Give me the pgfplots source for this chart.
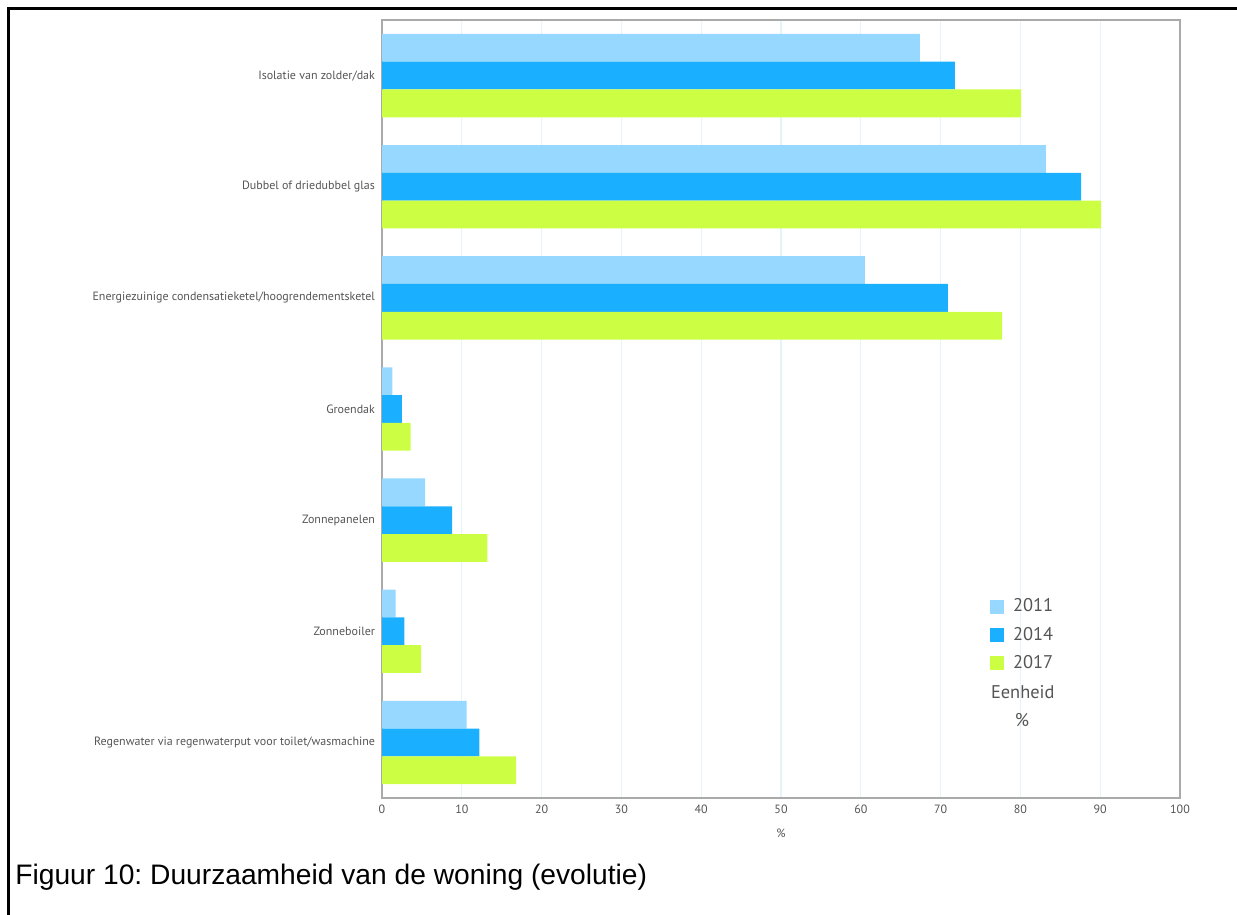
\documentclass[border=0pt]{standalone}
\usepackage{fontspec}
\setmainfont{Liberation Sans}
\newfontfamily\chartfont{PT Sans}
\usepackage{pgfplots}
\pgfplotsset{compat=1.18}
\definecolor{cA}{HTML}{96D8FF}
\definecolor{cB}{HTML}{1BAFFF}
\definecolor{cC}{HTML}{CCFF44}
\definecolor{gridc}{HTML}{E3F5FA}
\definecolor{txt}{HTML}{555555}
\definecolor{axc}{HTML}{AAAAAA}
\frenchspacing
\begin{document}
\begin{tikzpicture}
\useasboundingbox (0,0) rectangle (618.5pt,457.5pt);
\draw[line width=1.5pt] (4pt,0) -- (4pt,453pt) -- (618.5pt,453pt);
\begin{axis}[
  at={(191pt,58.5pt)}, anchor=south west,
  scale only axis, width=399pt, height=389pt,
  xmin=0, xmax=100,
  ymin=-0.5, ymax=6.5, y dir=reverse,
  ytick={0,...,6},
  yticklabels={Isolatie van zolder/dak, Dubbel of driedubbel glas, Energiezuinige condensatieketel/hoogrendementsketel, Groendak, Zonnepanelen, Zonneboiler, Regenwater via regenwaterput voor toilet/wasmachine},
  xtick={0,10,...,100},
  xmajorgrids, major grid style={gridc, line width=0.6pt},
  tick style={draw=none},
  axis line style={axc, line width=0.8pt},
  /pgf/number format/assume math mode=true,
  tick label style={font=\chartfont\fontsize{6}{7}\selectfont, text=txt},
  xlabel={\%},
  xlabel style={at={(axis description cs:0.5,0)}, anchor=center, yshift=-17.5pt, font=\chartfont\fontsize{6}{7}\selectfont, text=txt},
  legend style={at={(axis description cs:0.754,0.267)}, anchor=north west, draw=none, fill=none, font=\chartfont\fontsize{9.2}{10}\selectfont, text=txt, row sep=2.1pt, nodes={inner xsep=4.5pt}},
  legend cell align=left,
  legend image code/.code={\fill[#1] (0pt,-3.5pt) rectangle (7pt,3.5pt);},
]
\addplot[xbar, bar width=0.25, bar shift=-0.25, fill=cA, draw=none] coordinates {(67.4,0) (83.2,1) (60.5,2) (1.3,3) (5.4,4) (1.7,5) (10.6,6)};
\addplot[xbar, bar width=0.25, bar shift=0, fill=cB, draw=none] coordinates {(71.8,0) (87.6,1) (70.9,2) (2.5,3) (8.8,4) (2.8,5) (12.2,6)};
\addplot[xbar, bar width=0.25, bar shift=0.25, fill=cC, draw=none] coordinates {(80.1,0) (90.1,1) (77.7,2) (3.6,3) (13.2,4) (4.9,5) (16.8,6)};
\legend{2011,2014,2017}
\node[font=\chartfont\fontsize{9.2}{10}\selectfont, text=txt] at (axis description cs:0.803,0.1365) {Eenheid};
\node[font=\chartfont\fontsize{9.2}{10}\selectfont, text=txt] at (axis description cs:0.802,0.1005) {\%};
\end{axis}
\node[anchor=base west, inner sep=0pt, font=\fontsize{14.1}{16}\selectfont] at (7.5pt,15pt) {Figuur 10: Duurzaamheid van de woning (evolutie)};
\end{tikzpicture}
\end{document}
